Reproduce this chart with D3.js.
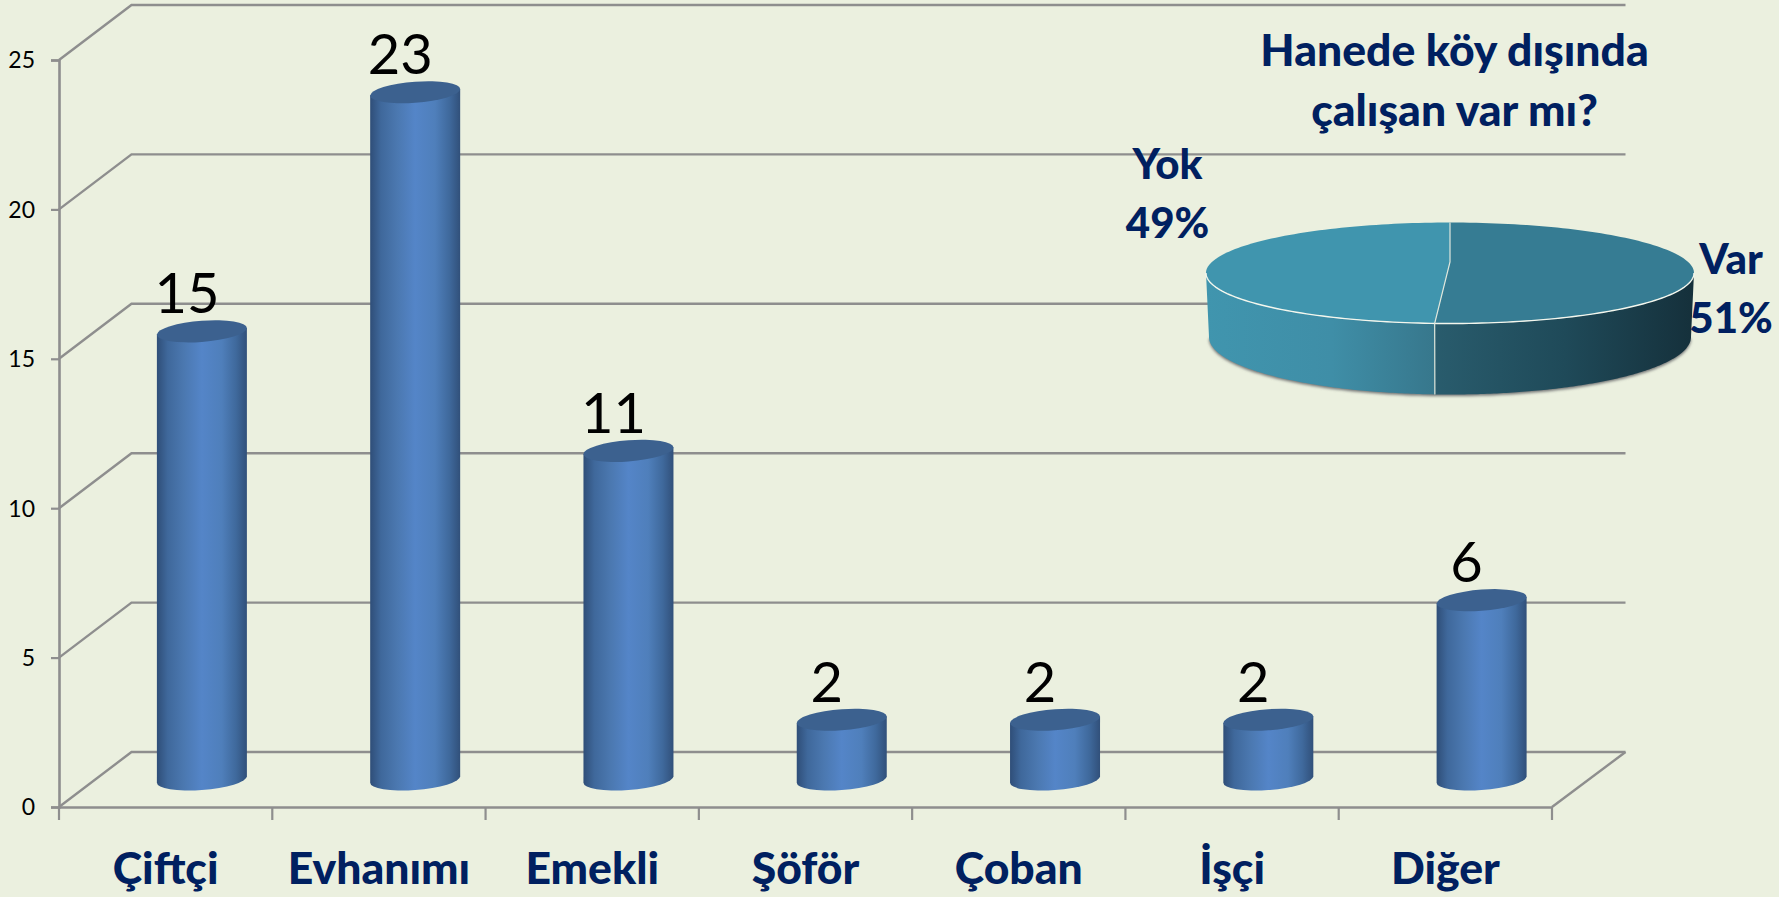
<!DOCTYPE html>
<html lang="tr"><head><meta charset="utf-8">
<script src="https://cdn.jsdelivr.net/npm/d3@7/dist/d3.min.js"></script>
<style>html,body{margin:0;padding:0;background:#ebf0df;overflow:hidden}svg{display:block}
text{font-family:Lato,"Open Sans",sans-serif}</style></head><body>
<svg id="c" width="1779" height="897"></svg>
<script>
const categories = ["Çiftçi","Evhanımı","Emekli","Şöför","Çoban","İşçi","Diğer"];
const counts = [15,23,11,2,2,2,6];
const yTicks = [0,5,10,15,20,25];
const pieLabels = ["Var","Yok"];
const pieShares = [51,49];
const titleLines = ["Hanede köy dışında","çalışan var mı?"];

const W=1779,H=897, GRID="#8e8e8e", NAVY="#002060";
const depthX=72.5, depthY=55;
const svg=d3.select("#c");
const x=d3.scaleBand().domain(categories).range([59,1552]);
const y=d3.scaleLinear().domain([0,25]).range([807,60]);
const defs=svg.append("defs");

function hGrad(id,stops){
  const g=defs.append("linearGradient").attr("id",id).attr("x1","0").attr("x2","1").attr("y1","0").attr("y2","0");
  stops.forEach(([o,c])=>g.append("stop").attr("offset",o).attr("stop-color",c));
}
hGrad("cyl",[[0,"#2f4e78"],[.12,"#3f689b"],[.3,"#4b78b0"],[.5,"#5485c8"],[.72,"#4f7fbb"],[.88,"#3f699c"],[1,"#31507a"]]);
hGrad("sideL",[[0,"#4095ae"],[.55,"#3f8ea7"],[1,"#37778c"]]);
hGrad("sideR",[[0,"#295c6d"],[.5,"#1f4a59"],[1,"#15303b"]]);
defs.append("filter").attr("id","blur").attr("x","-10%").attr("y","-30%").attr("width","120%").attr("height","160%")
  .append("feGaussianBlur").attr("stdDeviation",1.4);

// walls and floor grid
const grid=svg.append("g").attr("fill","none").attr("stroke",GRID).attr("stroke-width",2.4);
yTicks.forEach(t=>{
  grid.append("path").attr("d",d3.line()([[59,y(t)],[59+depthX,y(t)-depthY],[1552+depthX+1,y(t)-depthY]]));
});
grid.append("line").attr("x1",1552).attr("y1",y(0)).attr("x2",1552+depthX+1).attr("y2",y(0)-depthY);

// axes
const yAxis=svg.append("g").attr("transform","translate(59,0)")
  .call(d3.axisLeft(y).tickValues(yTicks).tickSize(8).tickPadding(16));
const xAxis=svg.append("g").attr("transform",`translate(0,${y(0)})`)
  .call(d3.axisBottom(x).tickSize(0).tickPadding(45));
[yAxis,xAxis].forEach(a=>{a.selectAll("path.domain").attr("stroke",GRID).attr("stroke-width",2.6);
  a.selectAll("line").attr("stroke",GRID).attr("stroke-width",2.2);});
yAxis.selectAll("text").attr("fill","#000").style("font-size","23px").style("font-family","Lato").attr("dy","0.34em");
xAxis.selectAll("text").attr("fill",NAVY).style("font-size","44.5px").style("font-weight","900").style("font-family","Lato").attr("dy","0.71em");
xAxis.selectAll("line.b").data([...categories.map(c=>x(c)),1552]).enter().append("line").attr("class","b")
  .attr("x1",d=>d).attr("x2",d=>d).attr("y1",0).attr("y2",13).attr("stroke",GRID).attr("stroke-width",2.2);

// cylinders
const rx=45,ry=10.6,skew=-4.2;
const barData=categories.map((c,i)=>({c,v:counts[i]}));
const bars=svg.append("g").selectAll("g").data(barData).enter().append("g")
  .attr("transform",d=>`translate(${x(d.c)+x.bandwidth()/2+depthX/2},0) skewY(${skew})`);
bars.append("path").attr("fill","url(#cyl)").attr("d",d=>{
  const t=y(d.v)-depthY/2,b=y(0)-depthY/2;
  return `M${-rx},${t}L${-rx},${b}A${rx},${ry} 0 0 0 ${rx},${b}L${rx},${t}Z`;
});
bars.append("ellipse").attr("rx",rx).attr("ry",ry).attr("cy",d=>y(d.v)-depthY/2).attr("fill","#3c618f");

// value labels
svg.append("g").selectAll("text").data(barData).enter().append("text")
  .attr("x",d=>x(d.c)+x.bandwidth()/2+depthX/2-15).attr("y",d=>y(d.v)-depthY/2-18)
  .attr("text-anchor","middle").attr("fill","#000").style("font-size","56px").text(d=>d.v);

// 3D pie: rim ellipses, apex displaced by the perspective
const apex=[1450,262];
const rimTop=th=>[1450+244*Math.sin(th),273-50.5*Math.cos(th)];
const rimBot=th=>[1450+241*Math.sin(th),337-57.5*Math.cos(th)];
const arcs=d3.pie().sort(null).value(d=>d).startAngle(0).endAngle(2*Math.PI)(pieShares);
const line=d3.line();
const sample=(f,s,e)=>d3.range(0,121).map(i=>f(s+(e-s)*i/120));
const pie=svg.append("g");
const thR=Math.PI/2, thL=3*Math.PI/2, split=arcs[0].endAngle;
pie.append("path").attr("d",line(sample(rimBot,thR,thL).map(p=>[p[0],p[1]+1.6]))+"Z")
  .attr("fill","#6f7172").attr("filter","url(#blur)");
const wall=(s,e,fill)=>pie.append("path").attr("fill",fill)
  .attr("d",line(sample(rimTop,s,e).concat(sample(rimBot,e,s)))+"Z");
wall(thR,split,"url(#sideR)");
wall(split,thL,"url(#sideL)");
const topFill=["#367c93","#4095ae"];
arcs.forEach((d,i)=>{
  pie.append("path").attr("fill",topFill[i])
    .attr("d",line([apex,...sample(rimTop,d.startAngle,d.endAngle)])+"Z");
});
pie.append("path").attr("fill","none").attr("stroke","#f4f7ee").attr("stroke-width",1.4)
  .attr("d",line(sample(rimTop,thR,thL)));
pie.append("path").attr("fill","none").attr("stroke","#dfe7dc").attr("stroke-width",1.2)
  .attr("d",line([rimTop(0),apex,rimTop(split),rimBot(split)]));

// title and pie labels
const bold=(t,px,py,sz=42)=>svg.append("text").attr("x",px).attr("y",py).attr("text-anchor","middle")
  .attr("fill",NAVY).style("font-size",sz+"px").style("font-weight","900").text(t);
bold(titleLines[0],1454.5,66,44.5);
bold(titleLines[1],1454.5,126,44.5);
bold(pieLabels[1],1167.5,179);
bold(pieShares[1]+"%",1167.5,238);
bold(pieLabels[0],1731,273.5);
bold(pieShares[0]+"%",1731,332.5);
</script></body></html>
